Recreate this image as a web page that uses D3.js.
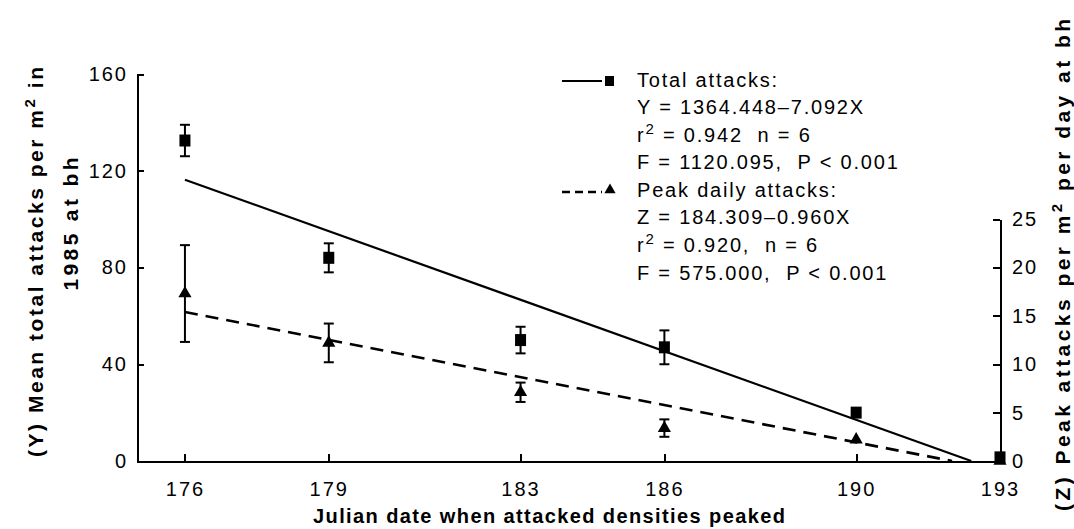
<!DOCTYPE html>
<html lang="en">
  <head>
    <meta charset="utf-8"/>
    <style>
      body {
        margin: 0;
        background: #fff;
      }
      svg {
        font-family: "Liberation Sans", Arial, sans-serif;
      }
      .axis path,
      .axis line {
        fill: none;
        stroke: #000;
        stroke-width: 2;
        shape-rendering: crispEdges;
      }
      .axis text {
        font-size: 20px;
        letter-spacing: 2px;
        fill: #000;
      }
      .title {
        font-weight: bold;
        font-size: 21px;
      }
      .legend text {
        font-size: 20px;
        letter-spacing: 1.8px;
      }
    </style>
    <script src="https://cdn.jsdelivr.net/npm/d3@7"></script>
  </head>
  <body>
    <script type="text/javascript">
      // data
      var days = [176, 179, 183, 186, 190, 193];
      var totalMean = [132.5, 84, 50, 47, 20, 1.5];   // left axis (Y)
      var totalErr = [6.5, 6, 5.5, 7, 0, 0];
      var peakMean = [17.3, 12.2, 7.1, 3.4, 2.2, 0];   // right axis (Z)
      var peakErr = [5, 2, 1, 0.9, 0, 0];

      // fitted lines, end points as drawn
      var totalFitX = [176, 192.4];
      var totalFitY = [116.3, 0];
      var peakFitX = [176, 192];
      var peakFitY = [15.4, 0];

      var leftTicks = [0, 40, 80, 120, 160];
      var rightTicks = [0, 5, 10, 15, 20, 25];

      var w = 1074;
      var h = 529;

      var svg = d3.select("body")
                  .append("svg")
                  .attr("width", w)
                  .attr("height", h);

      // scales
      var xScale = d3.scaleLinear().domain([175, 193]).range([137, 1000]);
      var yLeft = d3.scaleLinear().domain([0, 160]).range([461, 74]);
      var yRight = d3.scaleLinear().domain([0, 25]).range([461, 219]);

      // axes (ticks point inward)
      svg.append("g")
         .attr("class", "axis")
         .attr("transform", "translate(0,461)")
         .call(d3.axisBottom(xScale).tickValues(days)
                 .tickSizeInner(-7).tickSizeOuter(0).tickPadding(21));

      svg.append("g")
         .attr("class", "axis")
         .attr("transform", "translate(137,0)")
         .call(d3.axisLeft(yLeft).tickValues(leftTicks)
                 .tickSizeInner(-7).tickSizeOuter(0).tickPadding(9));

      svg.append("g")
         .attr("class", "axis")
         .attr("transform", "translate(1000,0)")
         .call(d3.axisRight(yRight).tickValues(rightTicks)
                 .tickSizeInner(-7).tickSizeOuter(0).tickPadding(12));

      // fitted lines
      var fitLine = function(xs, ys, sc) {
        return d3.line()
                 .x(function(d, i) { return xScale(xs[i]); })
                 .y(function(d, i) { return sc(ys[i]); })(xs);
      };

      svg.append("path")
         .attr("d", fitLine(totalFitX, totalFitY, yLeft))
         .attr("fill", "none")
         .attr("stroke", "#000")
         .attr("stroke-width", 2.2);

      svg.append("path")
         .attr("d", fitLine(peakFitX, peakFitY, yRight))
         .attr("fill", "none")
         .attr("stroke", "#000")
         .attr("stroke-width", 2.6)
         .attr("stroke-dasharray", "13,8");

      // error bars
      var errorBars = function(means, errs, sc) {
        var g = svg.append("g").attr("stroke", "#000").attr("stroke-width", 2);
        days.forEach(function(d, i) {
          if (errs[i] <= 0) return;
          var cx = xScale(d);
          var top = sc(means[i] + errs[i]);
          var bot = sc(means[i] - errs[i]);
          g.append("line").attr("x1", cx).attr("x2", cx).attr("y1", top).attr("y2", bot);
          g.append("line").attr("x1", cx - 5).attr("x2", cx + 5).attr("y1", top).attr("y2", top);
          g.append("line").attr("x1", cx - 5).attr("x2", cx + 5).attr("y1", bot).attr("y2", bot);
        });
      };
      errorBars(totalMean, totalErr, yLeft);
      errorBars(peakMean, peakErr, yRight);

      // markers
      svg.selectAll("rect.pt")
         .data(days)
         .enter()
         .append("rect")
         .attr("class", "pt")
         .attr("x", function(d) { return xScale(d) - 5.5; })
         .attr("y", function(d, i) { return yLeft(totalMean[i]) - 6; })
         .attr("width", 11)
         .attr("height", 12)
         .attr("fill", "#000");

      svg.selectAll("path.tri")
         .data(days)
         .enter()
         .append("path")
         .attr("class", "tri")
         .attr("d", d3.symbol().type(d3.symbolTriangle).size(75))
         .attr("transform", function(d, i) {
           return "translate(" + xScale(d) + "," + yRight(peakMean[i]) + ")";
         })
         .attr("fill", "#000");

      // legend
      var leg = svg.append("g").attr("class", "legend");
      leg.append("line").attr("x1", 562).attr("x2", 602).attr("y1", 81).attr("y2", 81)
         .attr("stroke", "#000").attr("stroke-width", 2.2);
      leg.append("rect").attr("x", 605).attr("y", 76).attr("width", 9).attr("height", 10).attr("fill", "#000");
      leg.append("line").attr("x1", 562).attr("x2", 602).attr("y1", 192).attr("y2", 192)
         .attr("stroke", "#000").attr("stroke-width", 2.4).attr("stroke-dasharray", "8,5");
      leg.append("path").attr("d", d3.symbol().type(d3.symbolTriangle).size(55))
         .attr("transform", "translate(610,190)").attr("fill", "#000");

      var legLines = [
        ["Total attacks:", 87],
        ["Y = 1364.448\u20137.092X", 114],
        ["r|2| = 0.942  n = 6", 142],
        ["F = 1120.095,  P < 0.001", 169],
        ["Peak daily attacks:", 197],
        ["Z = 184.309\u20130.960X", 224],
        ["r|2| = 0.920,  n = 6", 252],
        ["F = 575.000,  P < 0.001", 280]
      ];
      legLines.forEach(function(l) {
        var parts = l[0].split("|");
        var t = leg.append("text").attr("x", 637).attr("y", l[1]).attr("xml:space", "preserve");
        if (parts.length === 1) {
          t.text(parts[0]);
        } else {
          t.append("tspan").text(parts[0]);
          t.append("tspan").attr("dy", -8).attr("font-size", "15px").text(parts[1]);
          t.append("tspan").attr("dy", 8).text(parts[2]);
        }
      });

      // axis titles (stretched to the width they take in the figure)
      var yt = svg.append("text")
                  .attr("class", "title")
                  .attr("text-anchor", "middle")
                  .attr("textLength", 390)
                  .attr("lengthAdjust", "spacing")
                  .attr("transform", "translate(43,262) rotate(-90)");
      yt.append("tspan").text("(Y) Mean total attacks per m");
      yt.append("tspan").attr("dy", -8).attr("font-size", "15px").text("2");
      yt.append("tspan").attr("dy", 8).text(" in");

      svg.append("text")
         .attr("class", "title")
         .attr("text-anchor", "middle")
         .attr("textLength", 133)
         .attr("lengthAdjust", "spacing")
         .attr("transform", "translate(78,224) rotate(-90)")
         .text("1985 at bh");

      var zt = svg.append("text")
                  .attr("class", "title")
                  .attr("text-anchor", "middle")
                  .attr("textLength", 492)
                  .attr("lengthAdjust", "spacing")
                  .attr("transform", "translate(1070,265) rotate(-90)");
      zt.append("tspan").text("(Z) Peak attacks per m");
      zt.append("tspan").attr("dy", -8).attr("font-size", "15px").text("2");
      zt.append("tspan").attr("dy", 8).text(" per day at bh");

      svg.append("text")
         .attr("class", "title")
         .attr("text-anchor", "middle")
         .attr("textLength", 472)
         .attr("lengthAdjust", "spacing")
         .attr("x", 549)
         .attr("y", 523)
         .style("font-size", "20px")
         .text("Julian date when attacked densities peaked");
    </script>
  </body>
</html>
